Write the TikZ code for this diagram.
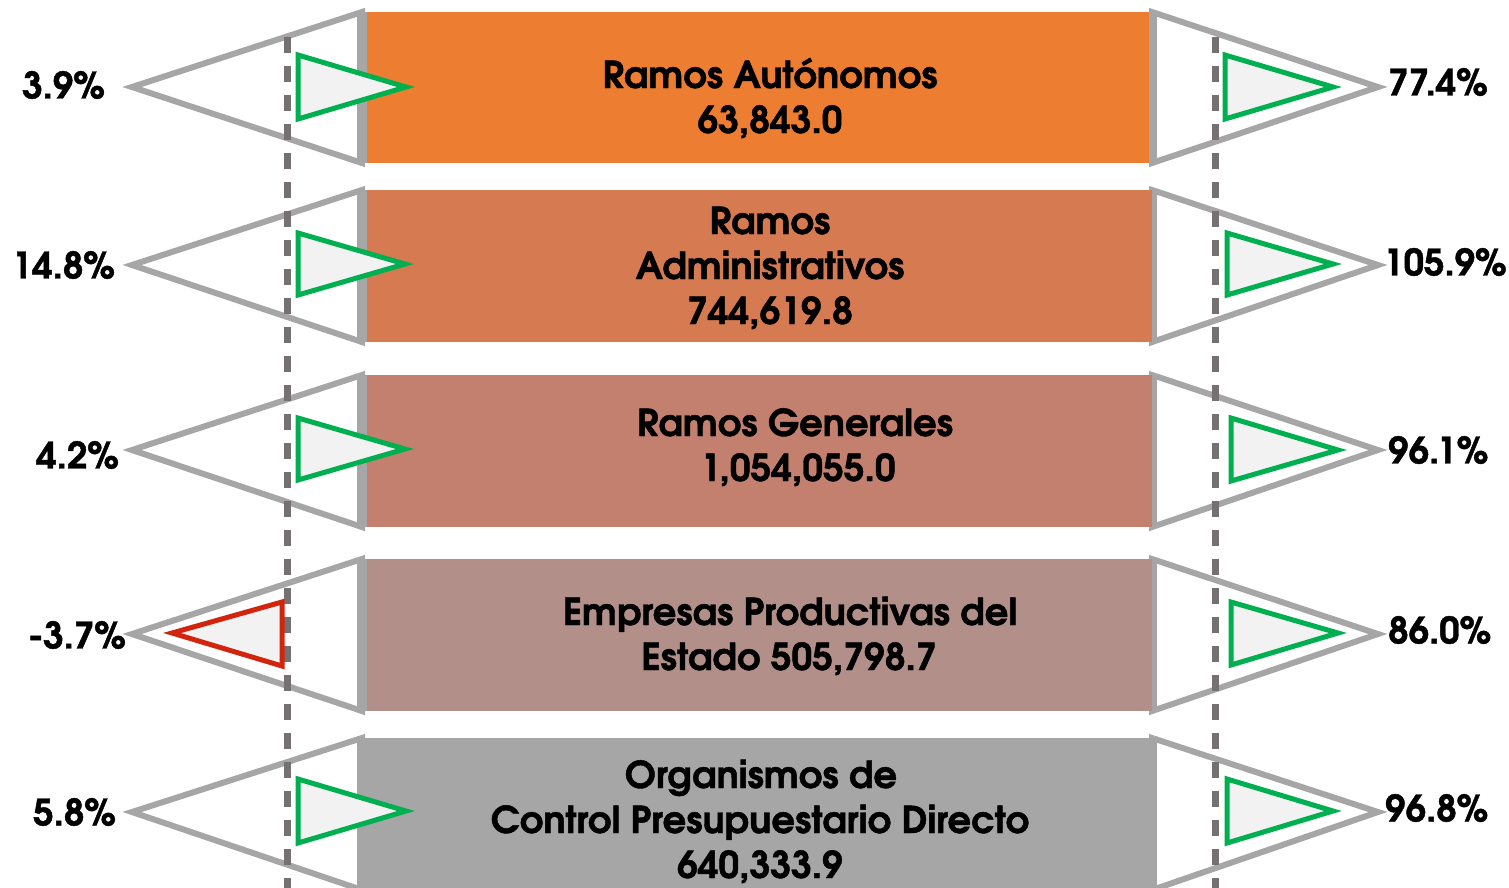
\documentclass[tikz,border=0pt]{standalone}
\usepackage{fontspec}
\setmainfont{TeX Gyre Adventor}[BoldFeatures={FakeBold=1.2}]
\definecolor{tgray}{HTML}{A6A6A6}
\definecolor{dgray}{HTML}{767171}
\definecolor{tgreen}{HTML}{00B050}
\definecolor{tred}{HTML}{D1250E}
\definecolor{tfill}{HTML}{F2F2F2}
\definecolor{cA}{HTML}{ED7D31}
\definecolor{cB}{HTML}{D67A52}
\definecolor{cC}{HTML}{C4806F}
\definecolor{cD}{HTML}{B38F89}
\definecolor{cE}{HTML}{A6A6A6}
\tikzset{
  bigtri/.style={draw=tgray, line width=6pt, fill=white, line join=miter},
  basebar/.style={draw=tgray, line width=10pt},
  greentri/.style={draw=tgreen, line width=5pt, fill=tfill, line join=miter},
  redtri/.style={draw=tred, line width=5pt, fill=tfill, line join=miter},
  dashline/.style={draw=dgray, line width=7pt, dash pattern=on 16pt off 13pt},
  boxtext/.style={anchor=base, inner sep=0pt, font=\bfseries\fontsize{37}{44}\selectfont},
  pct/.style={inner sep=0pt, font=\bfseries\fontsize{36.5}{42}\selectfont},
}
\begin{document}
\begin{tikzpicture}[x=1pt,y=-1pt]
\useasboundingbox (0,0) rectangle (1509,887);
% big gray triangles
\foreach \t/\b/\c in {12/163/87, 190/342/265, 375/527/450, 559/711/634, 738/890/812}{
  \draw[bigtri] (362,\t) -- (132,\c) -- (362,\b) -- cycle;
  \draw[bigtri] (1152,\t) -- (1378,\c) -- (1152,\b) -- cycle;
  \draw[basebar] (362,\t) -- (362,\b);
  \draw[basebar] (1152,\t) -- (1152,\b);
}
% boxes
\fill[cA] (367,12) rectangle (1149,163);
\fill[cB] (367,190) rectangle (1152,342);
\fill[cC] (367,375) rectangle (1152,527);
\fill[cD] (367,559) rectangle (1152,711);
\fill[cE] (357,738) rectangle (1156,890);
% dashed guides
\coordinate (dl1) at (287,37); \coordinate (dl2) at (287,890);
\coordinate (dr1) at (1215,37); \coordinate (dr2) at (1215,890);
\draw[dashline] (dl1) -- (dl2);
\draw[dashline] (dr1) -- (dr2);
% left indicators
\draw[greentri] (298,55) -- (406,87) -- (298,119) -- cycle;
\draw[greentri] (298,233) -- (405,264) -- (298,295) -- cycle;
\draw[greentri] (298,418) -- (405,449) -- (298,480) -- cycle;
\draw[redtri] (282,602) -- (172,633) -- (282,666) -- cycle;
\draw[greentri] (298,779) -- (406,811) -- (298,843) -- cycle;
% right indicators
\draw[greentri] (1225,55) -- (1333,87) -- (1225,119) -- cycle;
\draw[greentri] (1227,233) -- (1333,264) -- (1227,295) -- cycle;
\draw[greentri] (1231,418) -- (1338,450) -- (1231,481) -- cycle;
\draw[greentri] (1231,602) -- (1338,633) -- (1231,665) -- cycle;
\draw[greentri] (1227,779) -- (1333,811) -- (1227,843) -- cycle;
% box texts
\node[boxtext] (a1) at (770,88) {Ramos Autónomos};
\node[boxtext] (a2) at (770,133) {63,843.0};
\node[boxtext] (b1) at (770,234) {Ramos};
\node[boxtext] (b2) at (770,279) {Administrativos};
\node[boxtext] (b3) at (770,324) {744,619.8};
\node[boxtext] (c1) at (795,436) {Ramos Generales};
\node[boxtext] (c2) at (798,481) {1,054,055.0};
\node[boxtext] (d1) at (790,625) {Empresas Productivas del};
\node[boxtext] (d2) at (789,670) {Estado 505,798.7};
\node[boxtext] (e1) at (761,788) {Organismos de};
\node[boxtext] (e2) at (760,833) {Control Presupuestario Directo};
\node[boxtext] (e3) at (760,878) {640,333.9};
% left percentages
\node[pct, anchor=east] (l1) at (105,85) {3.9\%};
\node[pct, anchor=east] (l2) at (115,265) {14.8\%};
\node[pct, anchor=east] (l3) at (119,455) {4.2\%};
\node[pct, anchor=east] (l4) at (126,635) {-3.7\%};
\node[pct, anchor=east] (l5) at (116,812) {5.8\%};
% right percentages
\node[pct, anchor=west] (r1) at (1388,82) {77.4\%};
\node[pct, anchor=west] (r2) at (1383,262) {105.9\%};
\node[pct, anchor=west] (r3) at (1388,450) {96.1\%};
\node[pct, anchor=west] (r4) at (1388,630) {86.0\%};
\node[pct, anchor=west] (r5) at (1385,808) {96.8\%};
\end{tikzpicture}
\end{document}
